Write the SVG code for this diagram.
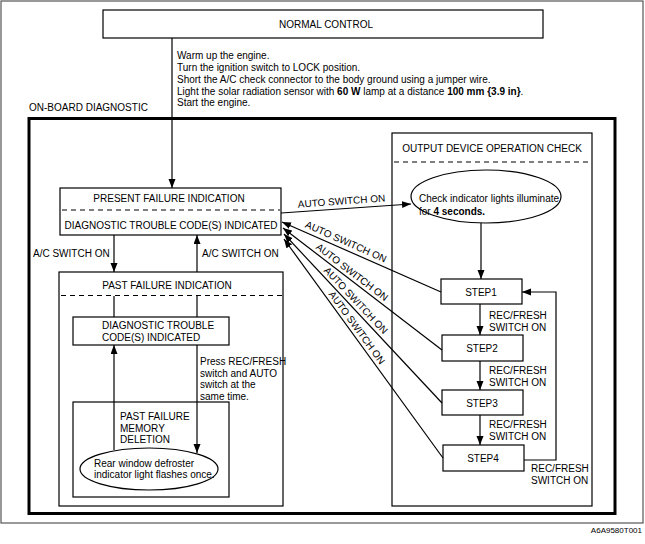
<svg xmlns="http://www.w3.org/2000/svg" width="645" height="544" viewBox="0 0 645 544">
<style>
text{font-family:"Liberation Sans",Arial,sans-serif;font-size:10px;fill:#000}
.b{fill:none;stroke:#000;stroke-width:1.2}
.dash{stroke:#000;stroke-width:1.2;stroke-dasharray:5,4;fill:none}
.c{fill:none;stroke:#000;stroke-width:1.2}
.m{text-anchor:middle}
.bold{font-weight:bold}
</style>
<defs>
<marker id="ah" markerUnits="userSpaceOnUse" markerWidth="10" markerHeight="8" refX="9" refY="3.5" orient="auto">
<path d="M0,0 L9,3.5 L0,7 z" fill="#000"/>
</marker>
</defs>
<rect x="0" y="0" width="645" height="544" fill="#fff"/>
<rect x="1" y="1" width="642" height="522" fill="none" stroke="#555" stroke-width="1.2"/>
<text x="642" y="533" style="font-size:8px" text-anchor="end">A6A9580T001</text>

<g id="normal-control">
<rect class="b" x="103" y="10" width="440" height="28"/>
<text class="m" x="326" y="28">NORMAL CONTROL</text>
</g>
<g id="instructions">
<text x="177" y="59">Warm up the engine.</text>
<text x="177" y="71">Turn the ignition switch to LOCK position.</text>
<text x="177" y="83">Short the A/C check connector to the body ground using a jumper wire.</text>
<text x="177" y="94.5">Light the solar radiation sensor with <tspan class="bold">60 W</tspan> lamp at a distance <tspan class="bold">100 mm {3.9 in}</tspan>.</text>
<text x="177" y="106">Start the engine.</text>
</g>
<g id="on-board-diagnostic">
<text x="29" y="111">ON-BOARD DIAGNOSTIC</text>
<rect x="29" y="118.5" width="586" height="395" fill="none" stroke="#000" stroke-width="3"/>
</g>
<g id="present-failure">
<rect class="b" x="60" y="188" width="221" height="47"/>
<line class="dash" x1="62" y1="210" x2="280" y2="210"/>
<text class="m" x="169" y="202">PRESENT FAILURE INDICATION</text>
<text class="m" x="171" y="229">DIAGNOSTIC TROUBLE CODE(S) INDICATED</text>
</g>
<g id="past-failure">
<rect class="b" x="59" y="272" width="224" height="234"/>
<line class="dash" x1="61" y1="295.5" x2="282" y2="295.5"/>
<text class="m" x="167" y="289">PAST FAILURE INDICATION</text>
</g>
<g id="dtc-indicated">
<rect class="b" x="73" y="317" width="156" height="28"/>
<text x="102" y="329">DIAGNOSTIC TROUBLE</text>
<text x="102" y="341">CODE(S) INDICATED</text>
</g>
<g id="memory-deletion">
<rect class="b" x="73" y="402" width="156" height="95"/>
<text x="120" y="420">PAST FAILURE</text>
<text x="120" y="431.5">MEMORY</text>
<text x="120" y="443">DELETION</text>
<ellipse class="b" cx="149" cy="469" rx="69" ry="21"/>
<text x="94" y="467">Rear window defroster</text>
<text x="94" y="478">indicator light flashes once.</text>
</g>
<g id="output-check">
<rect class="b" x="392" y="133" width="200" height="373"/>
<line class="dash" x1="394" y1="162" x2="591" y2="162"/>
<text class="m" x="492" y="152">OUTPUT DEVICE OPERATION CHECK</text>
</g>
<g id="check-lights">
<ellipse class="b" cx="486" cy="196.5" rx="75" ry="26.5"/>
<text x="419" y="202">Check indicator lights illuminate</text>
<text x="419" y="215">for <tspan class="bold">4 seconds.</tspan></text>
</g>
<g id="step1">
<rect class="b" x="441" y="279" width="81" height="25"/>
<text class="m" x="481" y="295.5">STEP1</text>
</g>
<g id="step2">
<rect class="b" x="442" y="335" width="81" height="26"/>
<text class="m" x="482" y="352">STEP2</text>
</g>
<g id="step3">
<rect class="b" x="442" y="390" width="81" height="25"/>
<text class="m" x="482" y="406.5">STEP3</text>
</g>
<g id="step4">
<rect class="b" x="443" y="445" width="81" height="26"/>
<text class="m" x="483" y="462">STEP4</text>
</g>

<g id="connectors">
<line class="c" x1="172" y1="38" x2="172" y2="188" marker-end="url(#ah)"/>
<line class="c" x1="114" y1="235" x2="114" y2="272" marker-end="url(#ah)"/>
<line class="c" x1="197" y1="272" x2="197" y2="235" marker-end="url(#ah)"/>
<line class="c" x1="114" y1="296" x2="114" y2="317"/>
<line class="c" x1="197" y1="296" x2="197" y2="317"/>
<line class="c" x1="114" y1="450" x2="114" y2="345" marker-end="url(#ah)"/>
<line class="c" x1="197" y1="345" x2="197" y2="453" marker-end="url(#ah)"/>
<line class="c" x1="281" y1="213" x2="411" y2="204" marker-end="url(#ah)"/>
<line class="c" x1="481" y1="223" x2="481" y2="279" marker-end="url(#ah)"/>
<line class="c" x1="480" y1="304" x2="480" y2="335" marker-end="url(#ah)"/>
<line class="c" x1="480" y1="361" x2="480" y2="390" marker-end="url(#ah)"/>
<line class="c" x1="480" y1="415" x2="480" y2="445" marker-end="url(#ah)"/>
<polyline class="c" points="524,460 556,460 556,292 522,292" marker-end="url(#ah)"/>
<line class="c" x1="441" y1="292" x2="282" y2="222" marker-end="url(#ah)"/>
<line class="c" x1="442" y1="350" x2="283" y2="228" marker-end="url(#ah)"/>
<line class="c" x1="442" y1="403" x2="284" y2="234" marker-end="url(#ah)"/>
<line class="c" x1="443" y1="458" x2="284" y2="239" marker-end="url(#ah)"/>
</g>
<g id="connector-labels">
<text x="33" y="257">A/C SWITCH ON</text>
<text x="202" y="257">A/C SWITCH ON</text>
<text x="200" y="365">Press REC/FRESH</text>
<text x="200" y="376.5">switch and AUTO</text>
<text x="200" y="388">switch at the</text>
<text x="200" y="399.5">same time.</text>
<text class="m" transform="translate(342,208.5) rotate(-4.1)" y="-4">AUTO SWITCH ON</text>
<text class="m" transform="translate(343,248.5) rotate(23.9)" y="-4">AUTO SWITCH ON</text>
<text class="m" transform="translate(347.5,278) rotate(37.5)" y="-4">AUTO SWITCH ON</text>
<text class="m" transform="translate(350.5,305.5) rotate(46.7)" y="-4">AUTO SWITCH ON</text>
<text class="m" transform="translate(351,332) rotate(53.8)" y="-4">AUTO SWITCH ON</text>
<text x="489" y="319">REC/FRESH</text>
<text x="489" y="331">SWITCH ON</text>
<text x="489" y="374">REC/FRESH</text>
<text x="489" y="386">SWITCH ON</text>
<text x="489" y="428">REC/FRESH</text>
<text x="489" y="440">SWITCH ON</text>
<text x="531" y="472">REC/FRESH</text>
<text x="531" y="484">SWITCH ON</text>
</g>
</svg>
